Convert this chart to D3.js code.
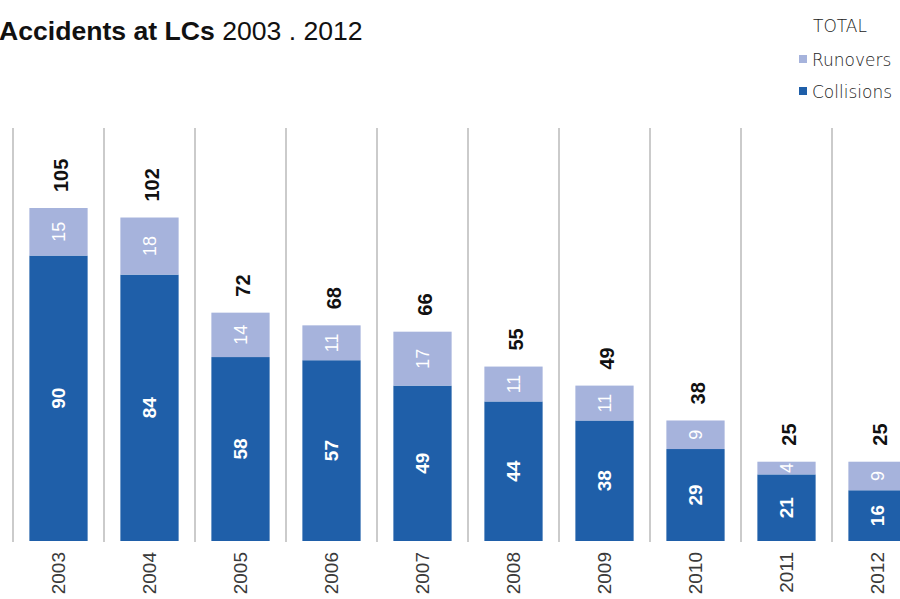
<!DOCTYPE html>
<html>
<head>
<meta charset="utf-8">
<script src="https://cdn.jsdelivr.net/npm/d3@7"></script>
<style>
  html, body { margin: 0; padding: 0; background: #fff; }
  svg { display: block; }
</style>
</head>
<body>
<svg id="chart" width="900" height="599"></svg>
<script>
const years = ["2003","2004","2005","2006","2007","2008","2009","2010","2011","2012"];
const collisions = [90, 84, 58, 57, 49, 44, 38, 29, 21, 16];
const runovers = [15, 18, 14, 11, 17, 11, 11, 9, 4, 9];
const totals = [105, 102, 72, 68, 66, 55, 49, 38, 25, 25];
const seriesNames = ["Runovers", "Collisions"];
const colors = { Collisions: "#1f5fa9", Runovers: "#a6b3dc" };

const svg = d3.select("#chart");
const x = d3.scaleBand().domain(years).range([13, 923]).padding(0);
const y = d3.scaleLinear().domain([0, 105]).range([541, 208]);
const barW = x.bandwidth() * 0.64;

// separators
svg.append("g").selectAll("line")
  .data(years)
  .join("line")
  .attr("x1", d => x(d)).attr("x2", d => x(d))
  .attr("y1", 128).attr("y2", 542)
  .attr("stroke", "#a8a8a8").attr("stroke-width", 1.2);

const rows = years.map((yr, i) => ({ year: yr, Collisions: collisions[i], Runovers: runovers[i], total: totals[i] }));
const stack = d3.stack().keys(["Collisions", "Runovers"])(rows);

const g = svg.append("g");
stack.forEach(layer => {
  g.append("g").attr("fill", colors[layer.key])
    .selectAll("rect").data(layer).join("rect")
    .attr("x", d => x(d.data.year) + (x.bandwidth() - barW) / 2)
    .attr("width", barW)
    .attr("y", d => y(d[1]))
    .attr("height", d => y(d[0]) - y(d[1]));
  g.append("g").selectAll("text").data(layer).join("text")
    .attr("transform", d => `translate(${x(d.data.year) + x.bandwidth() / 2},${(y(d[0]) + y(d[1])) / 2}) rotate(-90)`)
    .attr("text-anchor", "middle")
    .attr("dy", "0.36em")
    .attr("fill", "#fff")
    .style("font-family", "'Liberation Sans', Arial, sans-serif")
    .style("font-size", layer.key === "Collisions" ? "19px" : "18px")
    .style("font-weight", layer.key === "Collisions" ? "bold" : "normal")
    .text(d => d.data[layer.key]);
});

// totals
svg.append("g").selectAll("text").data(rows).join("text")
  .attr("transform", d => `translate(${x(d.year) + x.bandwidth() / 2 + 2},${y(d.total) - 16}) rotate(-90)`)
  .attr("text-anchor", "start")
  .attr("dy", "0.36em")
  .attr("fill", "#111")
  .style("font-family", "'Liberation Sans', Arial, sans-serif")
  .style("font-size", "20px")
  .style("font-weight", "bold")
  .text(d => d.total);

// year axis labels
const xAxis = d3.axisBottom(x).tickSize(0).tickPadding(0);
const ax = svg.append("g").attr("transform", "translate(0,552)").call(xAxis);
ax.select(".domain").remove();
ax.selectAll(".tick text")
  .attr("transform", "rotate(-90)")
  .attr("x", 0).attr("y", 0)
  .attr("dy", "0.36em")
  .attr("text-anchor", "end")
  .attr("fill", "#3a3a3a")
  .style("font-family", "'Liberation Sans', Arial, sans-serif")
  .style("font-size", "19px");

// title
const title = svg.append("text").attr("x", -1).attr("y", 40)
  .style("font-family", "'Liberation Sans', Arial, sans-serif")
  .style("font-size", "26.6px").attr("fill", "#111");
title.append("tspan").style("font-weight", "bold").text("Accidents at LCs");
title.append("tspan").text(" 2003 . 2012");

// legend
const legendFont = "'DejaVu Sans', sans-serif";
svg.append("text").attr("x", 813).attr("y", 32)
  .style("font-family", legendFont).style("font-size", "17px").style("font-weight", 200)
  .attr("fill", "#222").text("TOTAL");
seriesNames.forEach((name, i) => {
  const yy = 66 + i * 32;
  svg.append("rect").attr("x", 799).attr("y", yy - 11).attr("width", 8).attr("height", 8)
    .attr("fill", colors[name]);
  svg.append("text").attr("x", 812).attr("y", yy)
    .style("font-family", legendFont).style("font-size", "17px").style("font-weight", 200)
    .attr("fill", "#222").text(name);
});
</script>
</body>
</html>
